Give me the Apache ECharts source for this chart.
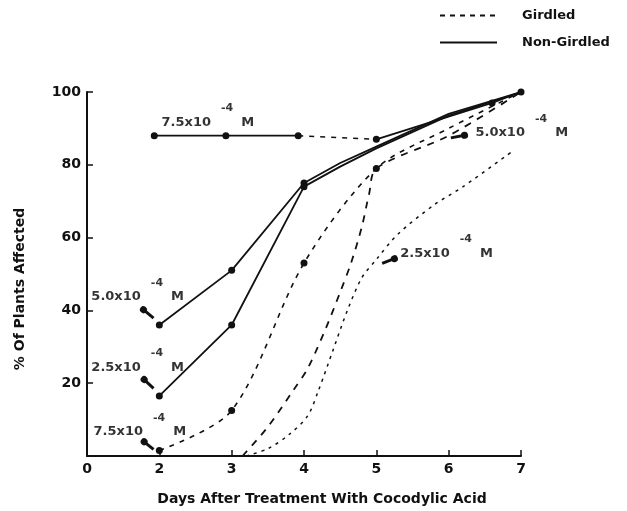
<!DOCTYPE html>
<html>
<head>
<meta charset="utf-8">
<script src="https://cdn.jsdelivr.net/npm/echarts@6/dist/echarts.min.js"></script>
<style>
html,body{margin:0;padding:0;background:#fff;}
#c{width:627px;height:511px;}
</style>
</head>
<body>
<div id="c"></div>
<script>
// ---- data (days after treatment, % of plants affected) ----
const xTickLabels = ['0', '2', '3', '4', '5', '6', '7']; // ticks at day 1..7 (axis break after 0)
const yTickLabels = ['', '20', '40', '60', '80', '100'];

// Non-girdled (solid)
const ng75 = [[1.93, 88], [2.92, 88], [3.92, 88], [5, 87], [6.6, 97], [7, 100]];
const ng50 = [[2, 36], [3, 51], [4, 75], [4.5, 80.5], [5, 85], [6, 94], [7, 100]];
const ng25 = [[2, 16.5], [3, 36], [4, 74], [4.5, 79.5], [5, 84.5], [6, 93.5], [7, 100]];

// Girdled (dashed)
const g75 = [[2, 1.5], [3, 12.5], [4, 53], [5, 79], [6, 90], [7, 100]];
const g50 = [[3.15, 0], [3.5, 8], [3.85, 18], [4.05, 24], [4.3, 35], [4.5, 45], [4.65, 53], [4.8, 63], [4.9, 72], [5, 79], [6, 88], [7, 100]];
const g25 = [[3.2, 0], [3.5, 2], [3.8, 6], [4.05, 11], [4.2, 18], [4.4, 29], [4.6, 40], [4.8, 49], [5, 54], [5.3, 61], [5.8, 69], [6.2, 74], [6.9, 84]];

// annotations
const annoCoeff = ['7.5x10', '5.0x10', '2.5x10', '5.0x10', '2.5x10', '7.5x10'];
const annoAt = [[2.03, 93.5], [6.37, 90.5], [5.33, 57.5], [1.06, 45.5], [1.06, 26.2], [1.09, 8.4]];
const arrowFrom = [[6.22, 88.1], [5.25, 54.2], [1.78, 40.2], [1.79, 21], [1.79, 3.9]];
const arrowTo = [[6.03, 87.4], [5.08, 52.9], [1.92, 37.9], [1.92, 18.6], [1.92, 1.8]];

const FONT = 'DejaVu Sans';
const BLACK = '#111';

function markerFilter(pts, keepDays) {
  return pts.map(p => ({ value: p, symbol: keepDays.some(d => Math.abs(d - p[0]) < 0.1) ? 'circle' : 'none' }));
}

const chart = echarts.init(document.getElementById('c'), null, { renderer: 'canvas' });

const solidStyle = { color: BLACK, width: 1.8, type: 'solid' };

const series = [
  // legend-only series
  { name: 'Girdled', type: 'line', data: [], symbol: 'none', lineStyle: { color: BLACK, width: 2, type: [5, 5] }, itemStyle: { color: BLACK } },
  { name: 'Non-Girdled', type: 'line', data: [], symbol: 'none', lineStyle: { color: BLACK, width: 2.2, type: 'solid' }, itemStyle: { color: BLACK } },

  // non-girdled 7.5 : solid part, dashed bridge, solid tail
  { name: 'ng75a', type: 'line', data: ng75.slice(0, 3), symbol: 'circle', symbolSize: 7, itemStyle: { color: BLACK }, lineStyle: solidStyle, z: 5 },
  { name: 'ng75b', type: 'line', data: ng75.slice(2, 4), symbol: 'none', lineStyle: { color: BLACK, width: 1.5, type: [5, 6] } },
  { name: 'ng75c', type: 'line', data: markerFilter(ng75.slice(3), [5, 6.6, 7]), symbolSize: 7, itemStyle: { color: BLACK }, lineStyle: solidStyle },

  { name: 'ng50', type: 'line', data: markerFilter(ng50, [2, 3, 4]), symbolSize: 7, itemStyle: { color: BLACK }, lineStyle: solidStyle },
  { name: 'ng25', type: 'line', data: markerFilter(ng25, [2, 3, 4]), symbolSize: 7, itemStyle: { color: BLACK }, lineStyle: solidStyle },

  { name: 'g75', type: 'line', smooth: 0.3, data: markerFilter(g75, [2, 3, 4, 5]), symbolSize: 7, itemStyle: { color: BLACK }, lineStyle: { color: BLACK, width: 1.6, type: [5, 6] } },
  { name: 'g50', type: 'line', smooth: 0.3, data: g50, symbol: 'none', lineStyle: { color: BLACK, width: 1.8, type: [7, 7] } },
  { name: 'g25', type: 'line', smooth: 0.3, data: g25, symbol: 'none', lineStyle: { color: BLACK, width: 1.5, type: [3, 5] } },

  // annotation labels
  {
    name: 'annotations', type: 'scatter', symbolSize: 0, silent: true,
    data: annoAt.map((p, i) => ({ value: p, coeff: annoCoeff[i] })),
    label: {
      show: true, position: 'right', distance: 0,
      formatter: p => '{a|' + p.data.coeff + '}{s|-4}{m|M}',
      rich: {
        a: { fontFamily: FONT, fontWeight: 'bold', fontSize: 13, color: '#000', lineHeight: 26, verticalAlign: 'bottom' },
        s: { fontFamily: FONT, fontWeight: 'bold', fontSize: 11, color: '#000', lineHeight: 26, verticalAlign: 'top', padding: [0, 8, 0, 10] },
        m: { fontFamily: FONT, fontWeight: 'bold', fontSize: 13, color: '#000', lineHeight: 26, verticalAlign: 'bottom' }
      }
    }
  },
  // annotation arrows
  {
    name: 'arrows', type: 'line', data: [], silent: true,
    markLine: {
      silent: true, symbol: ['circle', 'none'], symbolSize: 7,
      label: { show: false },
      lineStyle: { color: BLACK, width: 3, type: 'solid' },
      data: arrowFrom.map((f, i) => [{ coord: f }, { coord: arrowTo[i] }])
    }
  }
];

chart.setOption({
  animation: false,
  backgroundColor: '#fff',
  grid: { left: 87, right: 106, top: 92, bottom: 51, containLabel: false },
  legend: {
    data: ['Girdled', 'Non-Girdled'],
    orient: 'vertical', left: 434, top: 4,
    itemWidth: 57, itemHeight: 14, itemGap: 14,
    itemStyle: { opacity: 0 },
    textStyle: { fontFamily: FONT, fontWeight: 'bold', fontSize: 13, color: BLACK, padding: [0, 0, 0, 20] },
    selectedMode: false
  },
  xAxis: {
    type: 'value', min: 1, max: 7, interval: 1,
    name: 'Days After Treatment With Cocodylic Acid', nameLocation: 'middle', nameGap: 36,
    nameTextStyle: { fontFamily: FONT, fontWeight: 'bold', fontSize: 14, color: BLACK, padding: [0, 0, 0, 36] },
    axisLine: { lineStyle: { color: BLACK, width: 2 } },
    axisTick: { inside: true, length: 6, lineStyle: { color: BLACK, width: 1.5 } },
    axisLabel: { formatter: v => xTickLabels[Math.round(v) - 1], fontFamily: FONT, fontWeight: 'bold', fontSize: 14, color: BLACK, margin: 6 },
    splitLine: { show: false }
  },
  yAxis: {
    type: 'value', min: 0, max: 100, interval: 20,
    name: '% Of Plants Affected', nameLocation: 'middle', nameGap: 60, nameRotate: 90,
    nameTextStyle: { fontFamily: FONT, fontWeight: 'bold', fontSize: 14, color: BLACK, padding: [0, 30, 0, 0] },
    axisLine: { show: true, lineStyle: { color: BLACK, width: 2 } },
    axisTick: { show: true, inside: true, length: 6, lineStyle: { color: BLACK, width: 1.5 } },
    axisLabel: { formatter: v => yTickLabels[Math.round(v / 20)], fontFamily: FONT, fontWeight: 'bold', fontSize: 14, color: BLACK, margin: 6 },
    splitLine: { show: false }
  },
  series: series
});
</script>
</body>
</html>
